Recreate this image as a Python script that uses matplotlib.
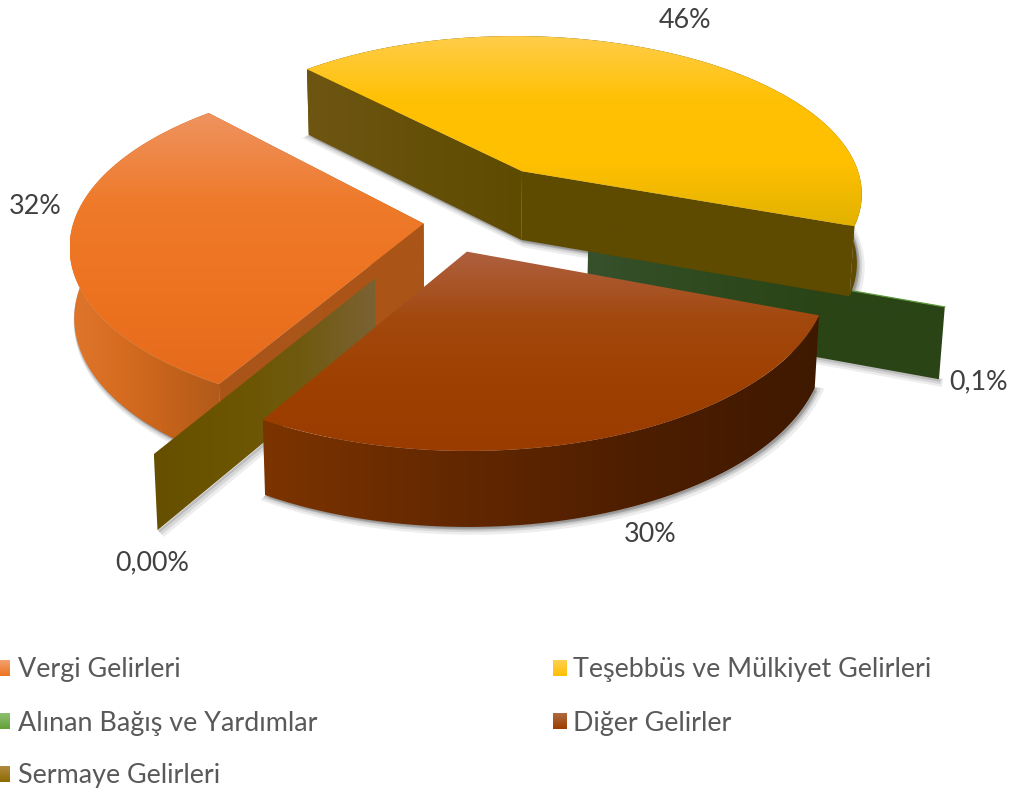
import numpy as np
import matplotlib
matplotlib.use("Agg")
import matplotlib.pyplot as plt
from matplotlib.colors import LinearSegmentedColormap, to_rgb
from matplotlib.patches import Polygon

# ---- data ----
categories = ["Vergi Gelirleri", "Teşebbüs ve Mülkiyet Gelirleri",
              "Alınan Bağış ve Yardımlar", "Diğer Gelirler", "Sermaye Gelirleri"]
values = [32, 46, 0.1, 30, 0.0]
value_labels = ["32%", "46%", "0,1%", "30%", "0,00%"]

# ---- layout / style ----
start_angle = 239.5
explode = [0.09, 0.385, 0.39, 0.186, 0.38]
nudge = [-3, -8, 0, -13, -12]
CX, CY, A, B, D, K, M = 458, 222, 350, 165, 70, 0.13, 0.012
label_xy = [(35, 206), (685, 20), (978, 382), (650, 535), (152, 563)]
top_stops = {0: ["#EF9360", "#EE7A2A", "#ED7320", "#E56B1C"],
             1: ["#FFCD4A", "#FFC105", "#FFC000", "#E2B200"],
             3: ["#AE6040", "#A3490F", "#9E4000", "#9A3C00"]}
rim_stops = {0: ["#E0762C", "#D66C20", "#C4621A", "#B05A1A"],
             1: ["#60500A", "#5E4B00", "#5E4B00", "#5E4B00"],
             2: ["#36512C", "#2E4A1E", "#2A4416", "#2A4416"],
             3: ["#7C3400", "#642800", "#4E1E00", "#3E1900"],
             4: ["#665000", "#6B5500", "#705A10", "#7B6234"]}
front_wall = {0: ["#A9561A", "#AC5418"], 1: ["#6E5612", "#5E4B00"]}
rear_wall = {0: ["#A9561A", "#A9561A"], 1: ["#5E4B00", "#5E4B00"]}
legend_stops = [["#F4A070", "#ED7320"], ["#FFD050", "#FFC000"], ["#90C070", "#62A03A"],
                ["#B06A40", "#9C3D00"], ["#B08A40", "#8F6B00"]]
legend_xy = [(0, 668), (553, 668), (0, 721), (553, 721), (0, 774)]
TEXT = "#595959"
plt.rcParams["font.family"] = ["Lato", "DejaVu Sans"]

fig = plt.figure(figsize=(10.14, 7.92), dpi=100)
ax = fig.add_axes([0, 0, 1, 1])
ax.axis("off")
order = [10]


def project(x, y, z=0.0):
    x, y = np.asarray(x, float), np.asarray(y, float)
    s = 1 / (1 + K * y)
    return np.column_stack([CX + A * x * s * (1 - M * z), CY - B * y * s + D * z * s ** 0.5])


def grad(pts, stops, vertical):
    order[0] += 1
    pts = np.asarray(pts)
    x0, y0 = pts.min(0)
    x1, y1 = pts.max(0)
    cmap = LinearSegmentedColormap.from_list("g", [to_rgb(c) for c in stops])
    g = np.linspace(0, 1, 256)
    g = g[:, None] if vertical else g[None, :]
    im = ax.imshow(g, cmap=cmap, extent=(x0, x1, y1, y0), origin="upper" if vertical else "lower",
                   aspect="auto", zorder=order[0], interpolation="bilinear")
    poly = Polygon(pts, closed=True, transform=ax.transData, fc="none", ec="none")
    ax.add_patch(poly)
    im.set_clip_path(poly)


def shadow(pts):
    for w, a in ((6, 0.10), (4, 0.14), (2, 0.2)):
        ax.add_patch(Polygon(np.asarray(pts) + [w * 0.6, w * 0.6], closed=True, fc="#555555",
                             ec="#555555", lw=w, alpha=a, zorder=1))


total = sum(values)
ang = start_angle
spans = []
for v in values:
    spans.append((ang, ang - v / total * 360))
    ang -= v / total * 360


def slice_geom(i):
    a0, a1 = np.radians(spans[i])
    mid = (a0 + a1) / 2
    ox = explode[i] * np.cos(mid) + nudge[i] / A
    oy = explode[i] * np.sin(mid)
    t = np.linspace(a0, a1, 160)
    return ox, oy, t


def solid(i):
    ox, oy, t = slice_geom(i)
    rx, ry = ox + np.cos(t), oy + np.sin(t)
    top, bot = project(rx, ry, 0), project(rx, ry, 1)
    apex_t, apex_b = project([ox], [oy], 0), project([ox], [oy], 1)
    shadow(np.vstack([apex_b, bot]))
    grad(np.vstack([top, bot[::-1]]), rim_stops[i], False)
    if i in front_wall:
        for edge, st in ((-1, rear_wall[i]), (0, front_wall[i])):
            wall = np.vstack([apex_t, top[edge], bot[edge], apex_b])
            grad(wall, st, False)
    grad(np.vstack([apex_t, top]), top_stops[i], True)


def sheet(i, line=None):
    ox, oy, t = slice_geom(i)
    tip = (ox + np.cos(t[0]), oy + np.sin(t[0]))
    a_t, a_b = project([ox], [oy], 0), project([ox], [oy], 1)
    r_t, r_b = project([tip[0]], [tip[1]], 0), project([tip[0]], [tip[1]], 1)
    pts = np.vstack([a_t, r_t, r_b, a_b])
    shadow(np.vstack([a_b, r_b]))
    grad(pts, rim_stops[i], False)
    if line:
        order[0] += 1
        ax.plot([a_t[0, 0], r_t[0, 0]], [a_t[0, 1], r_t[0, 1]], color=line, lw=0.9, zorder=order[0])


sheet(2, line="#5E9A3C")
solid(1)
solid(0)
sheet(4)
solid(3)

for s, (x, y) in zip(value_labels, label_xy):
    ax.text(x, y, s, ha="center", va="center", fontsize=19.4, color="#404040", zorder=500)

for name, st, (x, y) in zip(categories, legend_stops, legend_xy):
    grad([(x, y - 8), (x + 14 if x else 10, y - 8), (x + 14 if x else 10, y + 8), (x, y + 8)], st, True)
    ax.text(x + 18 if x == 0 else x + 20, y + 2, name, ha="left", va="center", fontsize=19.4, color=TEXT, zorder=500)

ax.set_xlim(0, 1014)
ax.set_ylim(792, 0)
fig.savefig("out.png", dpi=100, facecolor="white")
